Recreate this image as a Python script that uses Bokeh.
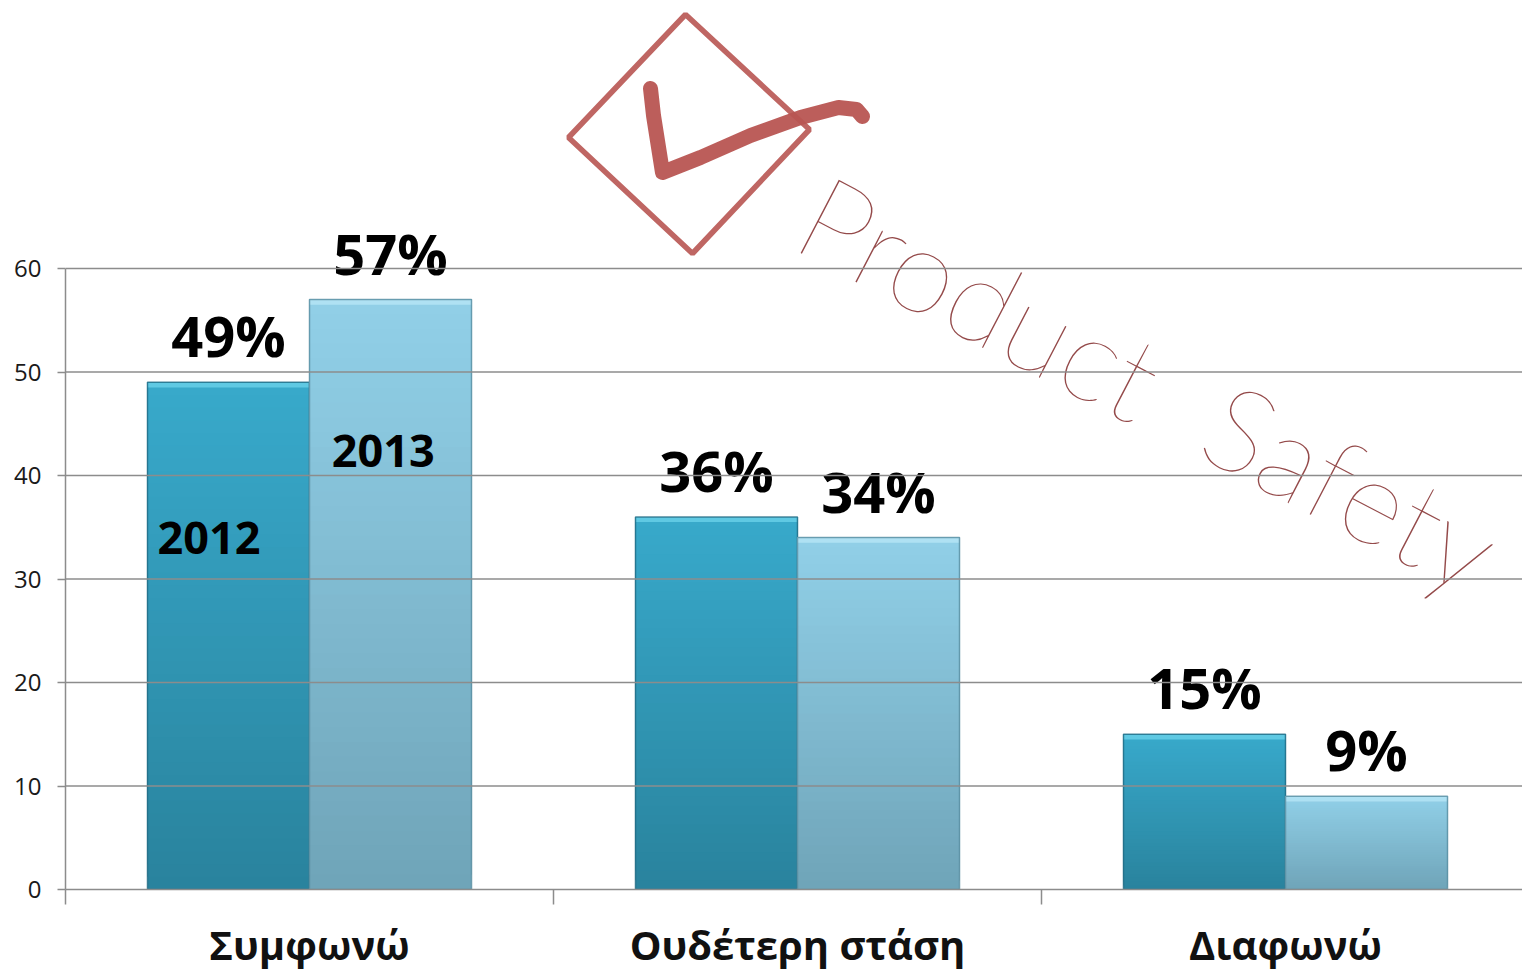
from bokeh.plotting import figure
from bokeh.models import (LinearAxis, FixedTicker, Range1d, Span)
from bokeh.core.properties import value
from bokeh.embed import file_html
from bokeh.resources import INLINE

# ---- data ----
categories = ["Συμφωνώ", "Ουδέτερη στάση", "Διαφωνώ"]
years = ["2012", "2013"]
vals_2012 = [49, 36, 15]
vals_2013 = [57, 34, 9]
y_ticks = [0, 10, 20, 30, 40, 50, 60]

# ---- style ----
W, H = 1522, 974
PX_PER_UNIT = 10.35
FRAME_BOTTOM = 889
LEFT = 65
CAT_PX = 488.0
FONT = "Open Sans"
grid_col = "#8c8c8c"

y_end = FRAME_BOTTOM / PX_PER_UNIT
x_end = (W - LEFT) / CAT_PX

p = figure(width=W, height=H, output_backend="svg", toolbar_location=None,
           x_range=Range1d(0, x_end), y_range=Range1d(0, y_end),
           min_border_left=LEFT, min_border_right=0, min_border_top=0,
           min_border_bottom=H - FRAME_BOTTOM, x_axis_type=None, y_axis_type=None)
p.outline_line_color = None
p.background_fill_color = "white"
p.border_fill_color = "white"
p.xgrid.visible = False
p.ygrid.visible = False

# y axis
yax = LinearAxis(ticker=FixedTicker(ticks=y_ticks), bounds=(0, 60))
yax.axis_line_color = grid_col
yax.axis_line_width = 1.5
yax.major_tick_line_color = grid_col
yax.major_tick_line_width = 1.5
yax.major_tick_in = 0
yax.major_tick_out = 8
yax.minor_tick_line_color = None
yax.major_label_standoff = 16
yax.major_label_text_font = FONT
yax.major_label_text_font_size = "24px"
yax.major_label_text_color = "#1a1a1a"
p.add_layout(yax, "left")

# x axis: labels at category centres, boundary marks as minor ticks
centers = [i + 0.5 for i in range(len(categories))]
bounds_t = list(range(len(categories) + 1))
xax = LinearAxis(ticker=FixedTicker(ticks=centers, minor_ticks=bounds_t))
xax.axis_line_color = grid_col
xax.axis_line_width = 1.5
xax.major_tick_line_color = None
xax.major_tick_in = 0
xax.major_tick_out = 0
xax.minor_tick_line_color = grid_col
xax.minor_tick_line_width = 1.5
xax.minor_tick_in = 0
xax.minor_tick_out = 15
xax.major_label_overrides = {c: name for c, name in zip(centers, categories)}
xax.major_label_text_font = FONT
xax.major_label_text_font_style = "bold"
xax.major_label_text_font_size = "40px"
xax.major_label_text_color = "#111111"
xax.major_label_standoff = 12
p.add_layout(xax, "below")

# gridlines
for t in y_ticks[1:]:
    p.add_layout(Span(location=t, dimension="width", line_color=grid_col, line_width=1.5))

# ---- watermark (decoration) ----
def ref(x, y):
    return (x - LEFT) / CAT_PX, (FRAME_BOTTOM - y) / PX_PER_UNIT

wm_col = "#b85552"
dia = [ref(685, 14), ref(809, 129), ref(692, 253), ref(568, 137)]
p.patch([d[0] for d in dia], [d[1] for d in dia], fill_color=None,
        line_color=wm_col, line_width=5.5, line_alpha=0.9)
chk = [ref(650, 88), ref(653, 115), ref(662, 172), ref(700, 157), ref(750, 135),
       ref(800, 117), ref(838, 107), ref(856, 109), ref(862, 116)]
p.line([c[0] for c in chk], [c[1] for c in chk], line_color=wm_col,
       line_width=15, line_cap="round", line_join="round", line_alpha=0.95)
for word, (wx, wy) in [("Product", (809, 206)), ("Safety", (1214, 413))]:
    tx, ty = ref(wx, wy)
    p.text(x=[tx], y=[ty], text=[word], angle=-0.48,
           text_font=value("Lato Hairline"), text_font_size="118px",
           text_color="#8e4040", text_alpha=0.95, text_baseline="middle",
           text_align="left")

# ---- bars with gradient ----
bar_w = 0.332
offsets = [-0.166, 0.166]
top_cols = [(0x38, 0xa9, 0xcb), (0x91, 0xd0, 0xe8)]
bot_cols = [(0x29, 0x83, 0x9d), (0x6f, 0xa4, 0xb8)]
bevel_cols = ["#66cfe8", "#b4e4f4"]
edge_cols = ["#226c84", "#5a8ea1"]
N = 40

def hexc(c):
    return "#%02x%02x%02x" % tuple(int(round(v)) for v in c)

series = [vals_2012, vals_2013]
for s, vals in enumerate(series):
    xs, tops, bots, cols = [], [], [], []
    for i, v in enumerate(vals):
        for k in range(N):
            f = (k + 0.5) / N
            xs.append(centers[i] + offsets[s])
            bots.append(v * k / N)
            tops.append(v)
            cols.append(hexc([b + (t - b) * f for b, t in zip(bot_cols[s], top_cols[s])]))
    p.vbar(x=xs, top=tops, bottom=bots, width=bar_w, fill_color=cols, line_color=None)
    bx = [c + offsets[s] for c in centers]
    p.vbar(x=bx, top=vals, bottom=[v - 0.5 for v in vals], width=bar_w,
           fill_color=bevel_cols[s], line_color=None, fill_alpha=0.85)
    p.vbar(x=bx, top=vals, width=bar_w, fill_color=None,
           line_color=edge_cols[s], line_width=1.5, line_alpha=0.8)
    p.text(x=bx, y=vals, text=[f"{v}%" for v in vals], text_align="center",
           text_baseline="middle", y_offset=-47, text_font=value(FONT),
           text_font_style="bold", text_font_size="56px", text_color="black")

# series name labels inside first group
p.text(x=[centers[0] + offsets[0] - 0.04], y=[34.0], text=[years[0]], text_align="center",
       text_baseline="middle", text_font=value(FONT), text_font_style="bold",
       text_font_size="45px", text_color="black")
p.text(x=[centers[0] + offsets[1] - 0.015], y=[42.4], text=[years[1]], text_align="center",
       text_baseline="middle", text_font=value(FONT), text_font_style="bold",
       text_font_size="45px", text_color="black")

open("out.html", "w").write(file_html(p, INLINE))
